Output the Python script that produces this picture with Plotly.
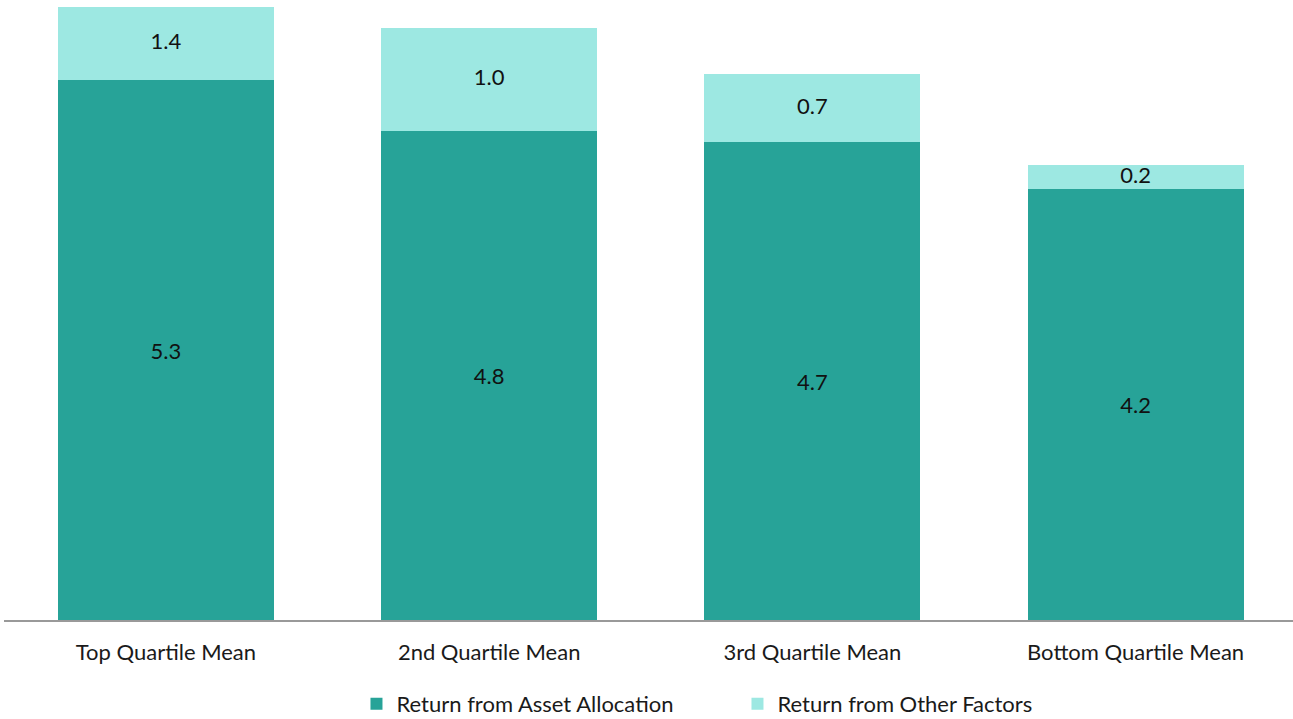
import plotly.graph_objects as go

categories = ["Top Quartile Mean", "2nd Quartile Mean", "3rd Quartile Mean", "Bottom Quartile Mean"]
asset_allocation = [5.30, 4.80, 4.69, 4.23]
other_factors = [1.40, 1.01, 0.67, 0.24]

FONT = "Source Sans Pro, Lato, Noto Sans, sans-serif"
Y_MAX = 6.02
DARK = "#27A398"
LIGHT = "#9DE8E2"

# label positions for the upper segment: centre of the visible part of each segment
label_y = [(a + min(a + o, Y_MAX)) / 2 for a, o in zip(asset_allocation, other_factors)]

fig = go.Figure()
fig.add_trace(go.Bar(
    x=categories, y=asset_allocation, name="Return from Asset Allocation",
    marker=dict(color=DARK, line=dict(width=0)),
    text=[f"{v:.1f}" for v in asset_allocation], textposition="inside",
    insidetextanchor="middle", textfont=dict(size=22, color="#111111", family=FONT),
))
fig.add_trace(go.Bar(
    x=categories, y=other_factors, name="Return from Other Factors",
    marker=dict(color=LIGHT, line=dict(width=0)),
    textposition="none",
))
fig.add_trace(go.Scatter(
    x=categories, y=label_y, mode="text",
    text=[f"{v:.1f}" for v in other_factors],
    textfont=dict(size=22, color="#111111", family=FONT),
    showlegend=False, hoverinfo="skip", cliponaxis=False,
))

fig.update_layout(
    barmode="stack",
    bargap=0.332,
    width=1293, height=719,
    margin=dict(l=4, r=0, t=7, b=99, autoexpand=False),
    plot_bgcolor="white", paper_bgcolor="white",
    font=dict(family=FONT, size=22, color="#1a1a1a"),
    legend=dict(orientation="h", xref="container", x=0.2757, xanchor="left",
                yref="container", y=15 / 719, yanchor="middle",
                font=dict(size=22), traceorder="normal",
                entrywidth=336),
    showlegend=True,
)
fig.update_xaxes(showline=True, linecolor="#999999", linewidth=2, ticks="",
                 tickfont=dict(size=22), showgrid=False, ticklabelstandoff=12,
                 range=[-0.501, 3.487])
fig.update_yaxes(range=[0, Y_MAX], visible=False, showgrid=False)

fig.write_html("out.html", config={"displayModeBar": False},
               post_script="document.body.style.margin='0px';")
